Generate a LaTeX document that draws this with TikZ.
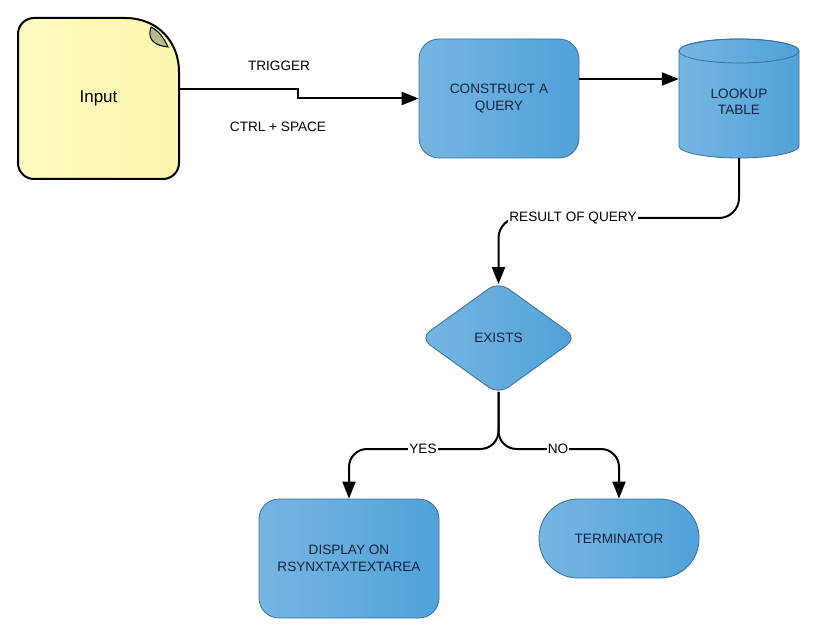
\documentclass[tikz,border=0pt]{standalone}
\usepackage{fontspec}
\setmainfont{Liberation Sans}
\usetikzlibrary{shapes.geometric, arrows.meta, positioning}
\definecolor{boxtop}{RGB}{118,182,226}
\definecolor{boxbot}{RGB}{80,162,217}
\definecolor{boxline}{RGB}{62,110,150}
\definecolor{boxtext}{RGB}{18,34,62}
\definecolor{notetop}{RGB}{253,251,192}
\definecolor{notebot}{RGB}{251,247,172}
\definecolor{notefold}{RGB}{182,186,136}

\begin{document}
\begin{tikzpicture}[x=1pt, y=-1pt,
        blk/.style={draw=boxline, line width=0.8pt, left color=boxtop, right color=boxbot,
            text=boxtext, align=center, inner sep=0pt, font=\fontsize{13.6}{16.5}\selectfont},
        arr/.style={line width=2pt, -{Triangle[length=17pt, width=13pt]}},
        lab/.style={fill=white, inner sep=1pt, font=\fontsize{13.6}{16}\selectfont}]
        \useasboundingbox (0,0) rectangle (813,636);
        \begin{scope}
            % note
            \draw[line width=2pt, left color=notetop, right color=notebot, line cap=round]
                (125,18) .. controls (158,18) and (179,42) .. (179,72)
                [rounded corners=16] -- (179,179) -- (18,179) -- (18,18) -- (125,18);
            \draw[line width=1pt, fill=notefold] (151,27) .. controls (148,36) and (150,45) .. (168,47)
                .. controls (164,38) and (159,31) .. (151,27);
            \node[minimum width=161, minimum height=161, font=\fontsize{17}{20}\selectfont] (inp) at (98.5,98.5) {Input};
            % cylinder
            \path[blk] (679,51) -- (679,146) arc[start angle=180, end angle=360, x radius=60pt, y radius=12pt]
                -- (799,51) arc[start angle=0, end angle=180, x radius=60pt, y radius=12pt] -- cycle;
            \draw[draw=boxline, line width=0.8pt] (739,51) ellipse[x radius=60pt, y radius=12pt];
            \node[align=center, text=boxtext, minimum width=120, minimum height=112, inner sep=0pt,
                font=\fontsize{13.6}{16.5}\selectfont] (tab) at (739,102) {LOOKUP\\TABLE};
            % boxes
            \node[blk, rounded corners=20, minimum width=160, minimum height=119] (qry) at (499,98.5) {CONSTRUCT A\\QUERY};
            \node[blk, diamond, rounded corners=12, minimum width=157, minimum height=113] (ex) at (498.5,338) {EXISTS};
            \node[blk, rounded corners=20, minimum width=180, minimum height=119] (disp) at (349,558.5) {DISPLAY ON\\RSYNXTAXTEXTAREA};
            \node[blk, rounded corners=39, minimum width=160, minimum height=79] (term) at (619,538.5) {TERMINATOR};
            % connectors
            \draw[arr] ([yshift=9.5pt]inp.east) -- (298,89) |- (qry.west);
            \draw[arr] ([yshift=19.5pt]qry.east) -- ([yshift=19.5pt]qry.east -| tab.west);
            \draw[arr, rounded corners=20] (tab.south) |- (ex.north |- 0,218) -- ([yshift=-3pt]ex.north);
            \draw[arr, rounded corners=18] ([yshift=3pt]ex.south) |- (disp.north |- 0,449) -- (disp.north);
            \draw[arr, rounded corners=18] ([yshift=3pt]ex.south) |- (term.north |- 0,449) -- (term.north);
            % labels
            \node[lab] (trig) at (279,66) {TRIGGER};
            \node[lab] (keys) at (278,127) {CTRL + SPACE};
            \node[lab] (res) at (573,218) {RESULT OF QUERY};
            \node[lab] (yes) at (423,449) {YES};
            \node[lab] (no) at (558,449) {NO};
        \end{scope}
    \end{tikzpicture}
\end{document}
